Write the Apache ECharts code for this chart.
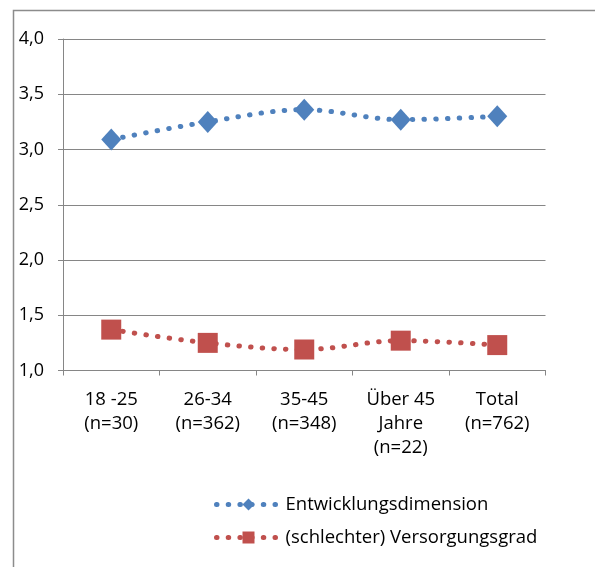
<!DOCTYPE html>
<html>
<head>
<meta charset="utf-8">
<script src="https://cdn.jsdelivr.net/npm/echarts@6/dist/echarts.min.js"></script>
<style>
  html, body { margin: 0; padding: 0; background: #fff; }
  #chart { width: 595px; height: 567px; }
</style>
</head>
<body>
<div id="chart"></div>
<script>
// Age groups (x axis) and mean scores per group
const categories = ['18 -25\n(n=30)', '26-34\n(n=362)', '35-45\n(n=348)', 'Über 45\nJahre\n(n=22)', 'Total\n(n=762)'];
const entwicklung = [3.09, 3.25, 3.36, 3.27, 3.30];
const versorgung = [1.37, 1.25, 1.19, 1.27, 1.23];
const seriesNames = ['Entwicklungsdimension', '(schlechter) Versorgungsgrad'];

const FONT = 'Open Sans';
const AXIS_GRAY = '#868686';
const DOTS = [0.5, 11.2];

const chart = echarts.init(document.getElementById('chart'), null, { renderer: 'canvas' });

function dottedSeries(name, data, color, symbol, size) {
  return {
    name: name,
    type: 'line',
    data: data,
    smooth: 0.35,
    symbol: symbol,
    symbolSize: size,
    showAllSymbol: true,
    lineStyle: { color: color, width: 5, type: DOTS, cap: 'round' },
    itemStyle: { color: color },
    emphasis: { disabled: true },
    z: 3
  };
}

chart.setOption({
  animation: false,
  backgroundColor: '#ffffff',
  textStyle: { fontFamily: FONT },
  graphic: [{
    type: 'rect',
    shape: { x: 13.5, y: 10.5, width: 620, height: 600 },
    style: { fill: 'none', stroke: '#8c8c8c', lineWidth: 1.5 },
    silent: true,
    z: -1
  }],
  grid: { left: 63, right: 49.5, top: 39, bottom: 196.5, containLabel: false },
  xAxis: {
    type: 'category',
    data: categories,
    boundaryGap: true,
    axisLine: { show: true, lineStyle: { color: AXIS_GRAY, width: 1 } },
    axisTick: { show: true, length: 5, alignWithLabel: false, lineStyle: { color: AXIS_GRAY } },
    axisLabel: { color: '#000', fontSize: 18.5, lineHeight: 24, margin: 17, fontFamily: FONT, interval: 0 },
    splitLine: { show: false }
  },
  yAxis: {
    type: 'value',
    min: 1.0,
    max: 4.0,
    interval: 0.5,
    axisLine: { show: true, lineStyle: { color: AXIS_GRAY, width: 1 } },
    axisTick: { show: true, length: 5, lineStyle: { color: AXIS_GRAY } },
    axisLabel: {
      color: '#000', fontSize: 18, margin: 19, fontFamily: FONT,
      formatter: v => v.toFixed(1).replace('.', ',')
    },
    splitLine: { show: true, lineStyle: { color: AXIS_GRAY, width: 1 } }
  },
  legend: {
    orient: 'vertical',
    left: 209,
    top: 490,
    itemWidth: 64,
    itemHeight: 15,
    itemGap: 14,
    lineStyle: { width: 5, type: DOTS, cap: 'round' },
    textStyle: { color: '#000', fontSize: 18.5, fontFamily: FONT, padding: [0, 0, 0, 0] },
    data: seriesNames
  },
  series: [
    dottedSeries(seriesNames[0], entwicklung, '#4F81BD', 'diamond', [20, 22]),
    dottedSeries(seriesNames[1], versorgung, '#C0504D', 'rect', 20)
  ]
});
</script>
</body>
</html>
